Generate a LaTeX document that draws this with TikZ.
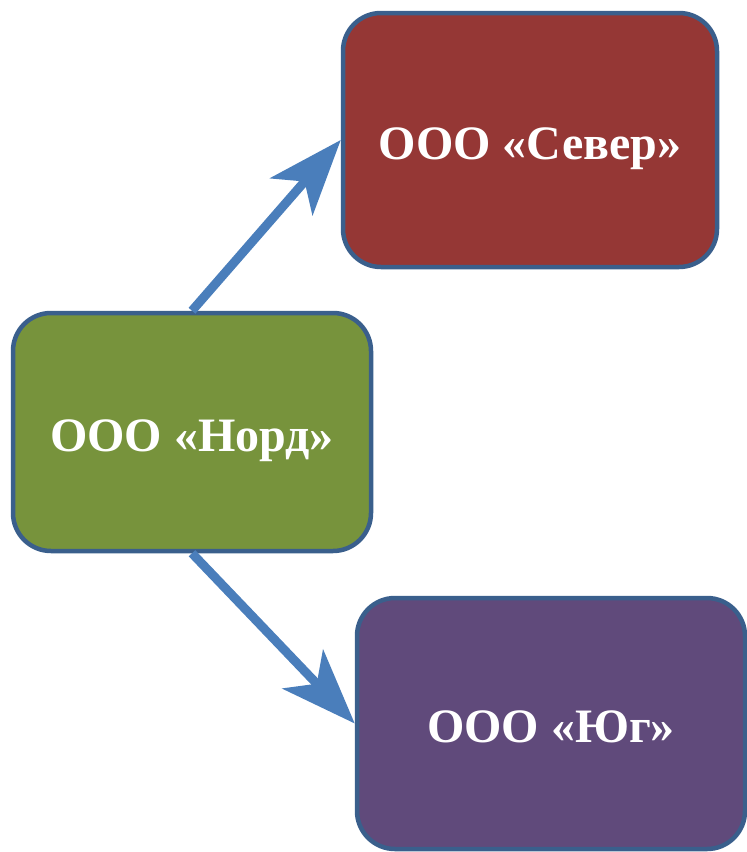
\documentclass[tikz,border=0pt]{standalone}
\usepackage{fontspec}
\setmainfont{Liberation Serif}
\usetikzlibrary{arrows.meta}
\definecolor{severfill}{HTML}{953735}
\definecolor{nordfill}{HTML}{77933C}
\definecolor{yugfill}{HTML}{604A7B}
\definecolor{boxborder}{HTML}{3A5F8C}
\definecolor{arrowblue}{HTML}{4A7EBB}
\tikzset{
  orgbox/.style={draw=boxborder, line width=4.5pt, rounded corners=38pt,
    text=white, font=\bfseries\fontsize{48}{58}\selectfont, inner sep=0pt,
    text height=38pt, text depth=0pt},
  bigarrow/.style={draw=arrowblue, line width=9pt,
    -{Stealth[length=75pt, width=56pt, inset=20pt, fill=arrowblue]}}
}
\begin{document}
\begin{tikzpicture}[x=1pt, y=-1pt]
\useasboundingbox (0,0) rectangle (747,852);
\node[orgbox, fill=severfill, minimum width=374pt, minimum height=254pt] (sever) at (530,140) {ООО «Север»};
\node[orgbox, fill=nordfill, minimum width=358pt, minimum height=238pt] (nord) at (192,432) {ООО «Норд»};
\node[orgbox, fill=yugfill, minimum width=388pt, minimum height=251pt] (yug) at (551,723.5) {ООО «Юг»};
\draw[bigarrow] (nord.north) -- (sever.west);
\draw[bigarrow] (nord.south) -- (yug.west);
\end{tikzpicture}
\end{document}
